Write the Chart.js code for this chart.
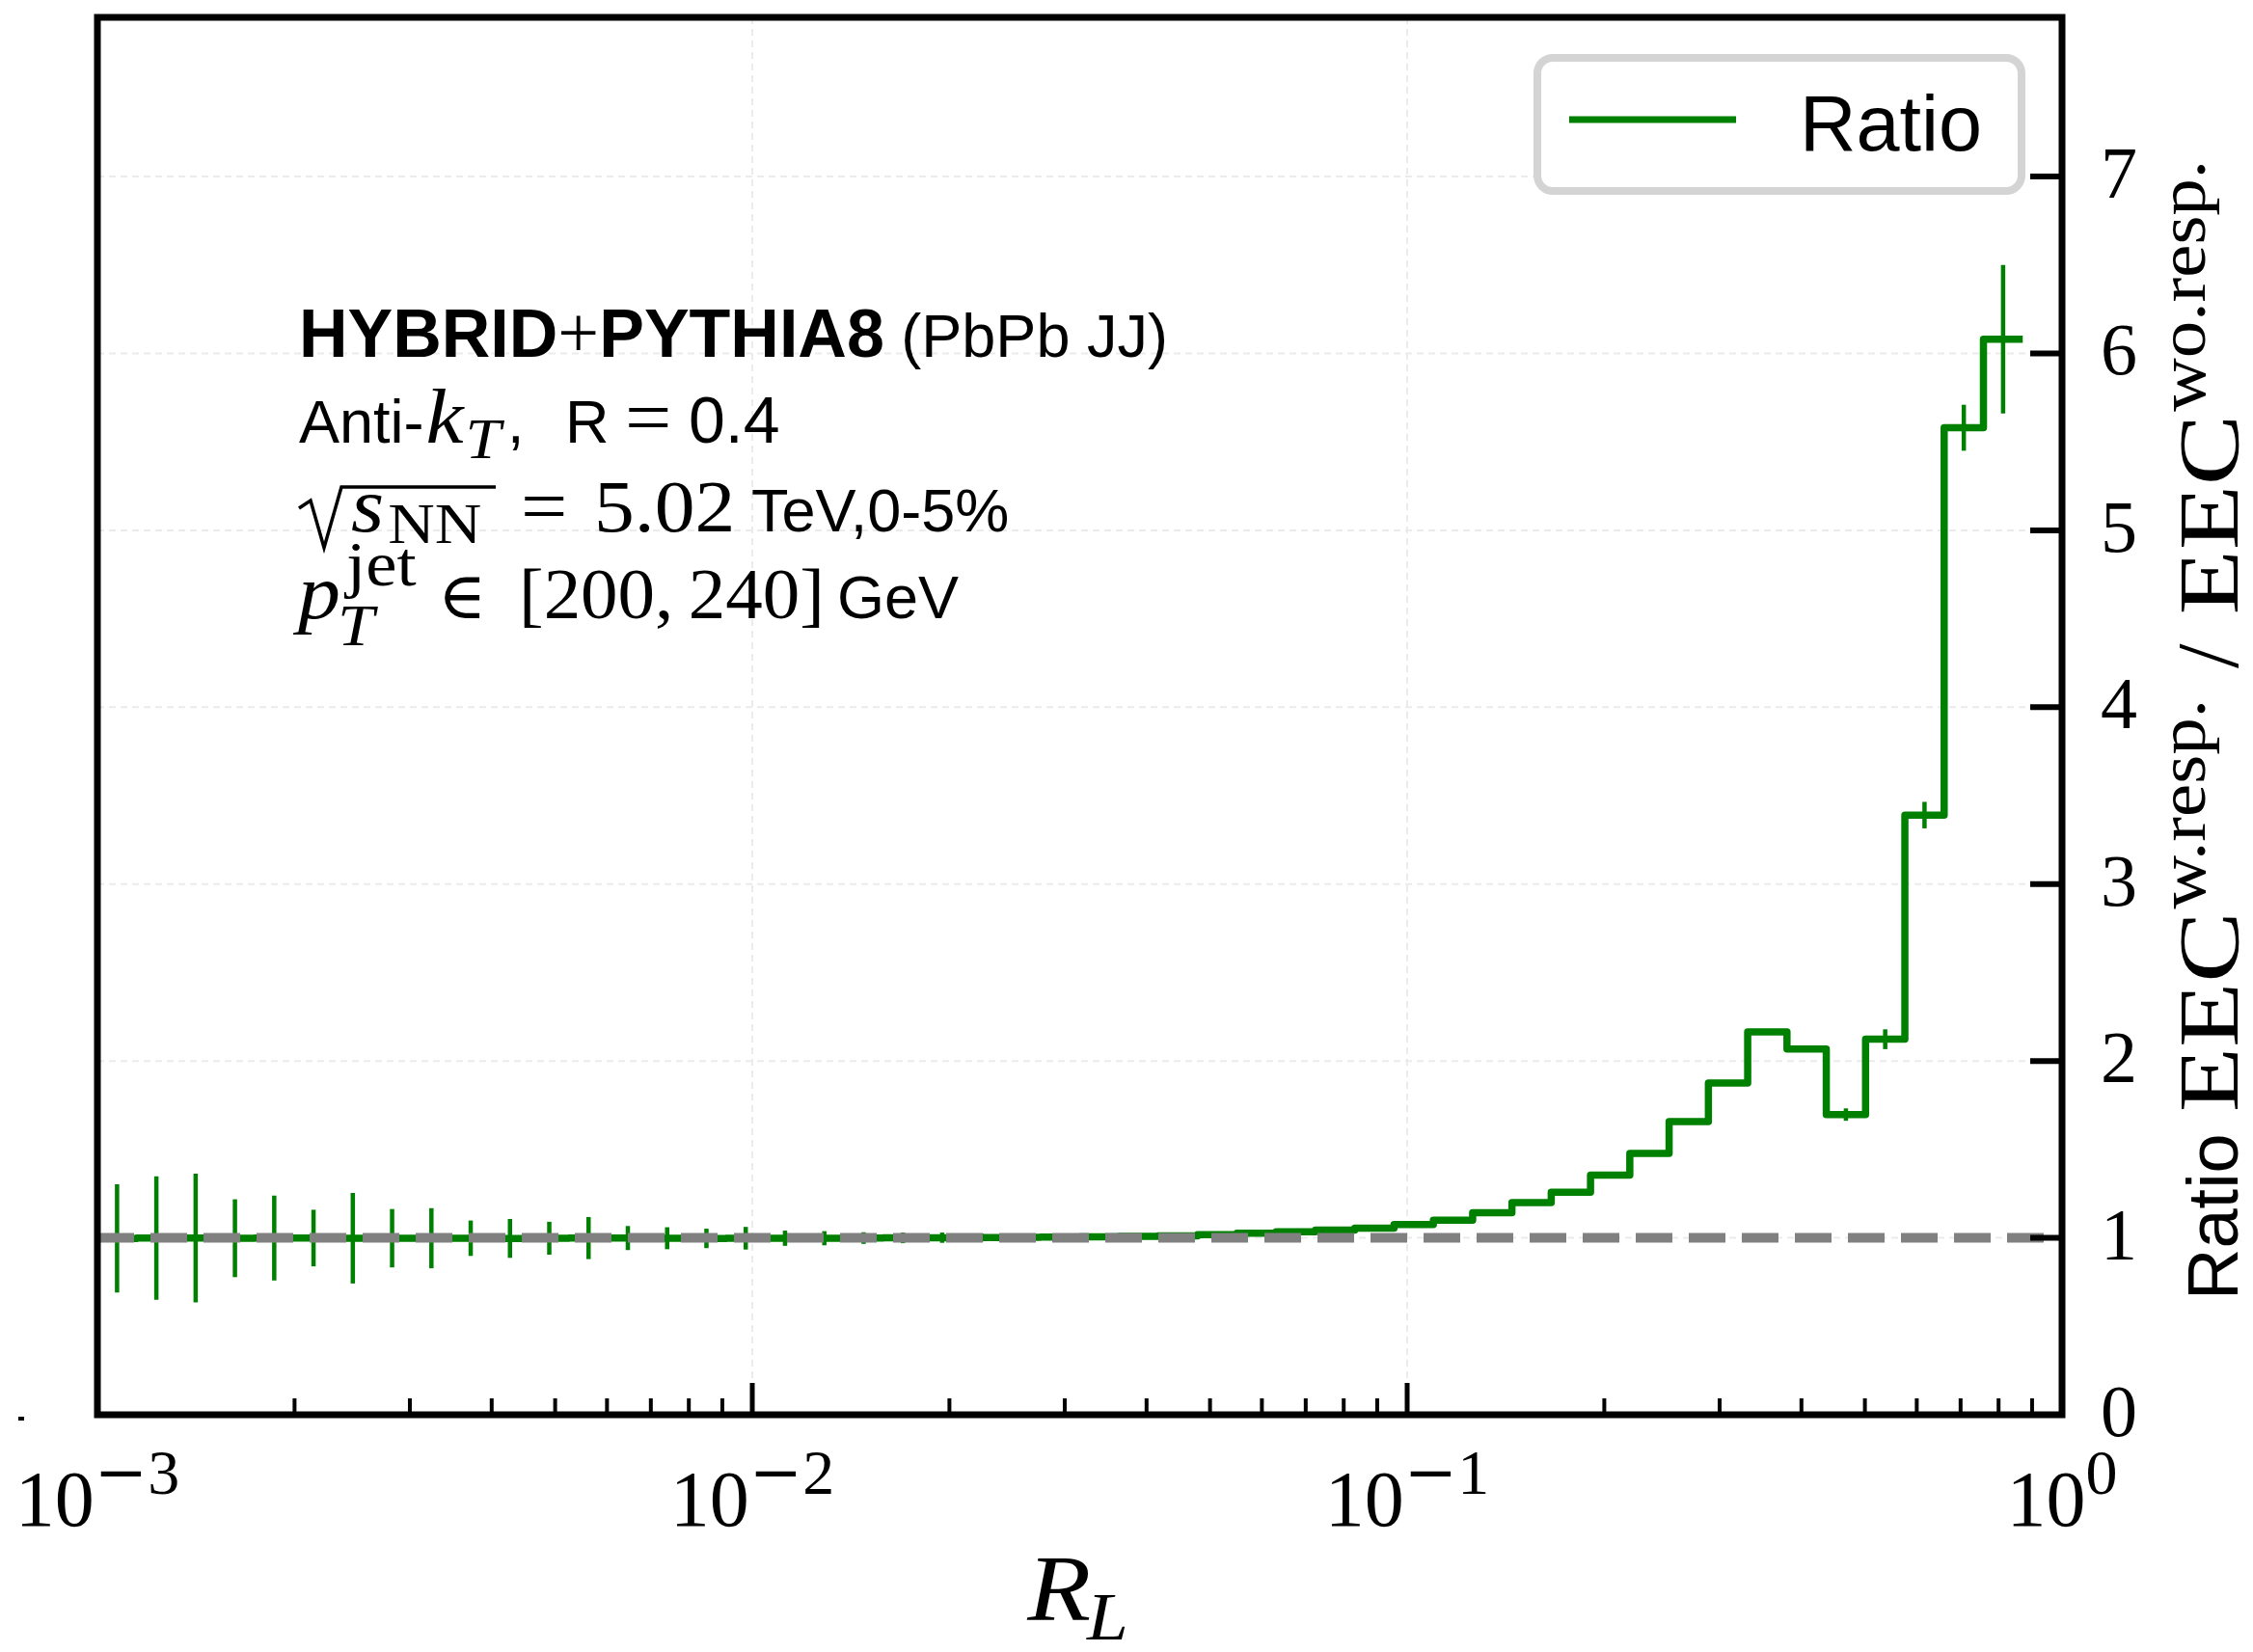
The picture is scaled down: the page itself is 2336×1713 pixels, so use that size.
<!DOCTYPE html>
<html>
<head>
<meta charset="utf-8">
<title>EEC ratio</title>
<script src="https://cdn.jsdelivr.net/npm/chart.js@4.4.0/dist/chart.umd.min.js"></script>
<style>
  html, body { margin: 0; padding: 0; background: #ffffff; }
  #wrap { width: 2336px; height: 1713px; }
</style>
</head>
<body>
<div id="wrap"><canvas id="chart" width="2336" height="1713"></canvas></div>
<script>
// R_L bin edges (log-spaced, 50 bins per three decades; the last bin is empty)
const binEdges = [
  0.0010000, 0.0011482, 0.0013183, 0.0015136, 0.0017378, 0.0019953, 0.0022909, 0.0026303,
  0.0030200, 0.0034674, 0.0039811, 0.0045709, 0.0052481, 0.0060256, 0.0069183, 0.0079433,
  0.0091201, 0.0104713, 0.0120226, 0.0138038, 0.0158489, 0.0181970, 0.0208930, 0.0239883,
  0.0275423, 0.0316228, 0.0363078, 0.0416869, 0.0478630, 0.0549541, 0.0630957, 0.0724436,
  0.0831764, 0.0954993, 0.1096478, 0.1258925, 0.1445440, 0.1659587, 0.1905461, 0.2187762,
  0.2511886, 0.2884032, 0.3311311, 0.3801894, 0.4365158, 0.5011872, 0.5754399, 0.6606934,
  0.7585776, 0.8709636
];

// EEC(w. resp.) / EEC(wo. resp.) per bin
const ratio = [
  0.997, 0.999, 0.999, 0.998, 0.999, 0.999, 0.998, 0.998, 0.998, 0.998,
  0.997, 0.998, 0.999, 0.999, 0.998, 0.997, 0.998, 0.998, 0.998, 0.999,
  1.000, 1.001, 1.002, 1.003, 1.004, 1.006, 1.008, 1.012, 1.018, 1.027,
  1.034, 1.044, 1.055, 1.076, 1.100, 1.142, 1.200, 1.258, 1.355, 1.478,
  1.658, 1.875, 2.165, 2.068, 1.697, 2.123, 3.390, 5.580, 6.080
];

// statistical uncertainty per bin
const ratioErr = [
  0.306, 0.349, 0.364, 0.220, 0.240, 0.160, 0.256, 0.165, 0.170, 0.100,
  0.110, 0.093, 0.119, 0.068, 0.062, 0.055, 0.064, 0.043, 0.040, 0.033,
  0.030, 0.029, 0.022, 0.020, 0.018, 0.015, 0.013, 0.012, 0.011, 0.010,
  0.010, 0.010, 0.010, 0.010, 0.010, 0.010, 0.010, 0.010, 0.010, 0.010,
  0.011, 0.012, 0.012, 0.015, 0.035, 0.056, 0.075, 0.130, 0.420
];

// axis ticks
const xMajorTicks = [0.001, 0.01, 0.1, 1];
const xTickExponents = ['\u22123', '\u22122', '\u22121', '0'];
const yMajorTicks = [0, 1, 2, 3, 4, 5, 6, 7];
const yTickLabels = ['0', '1', '2', '3', '4', '5', '6', '7'];
const referenceLevel = 1;

const SANS = '"Liberation Sans", Arial, sans-serif';
const SERIF = '"Liberation Serif", "Times New Roman", serif';
const DSERIF = '"DejaVu Serif", serif';
const GREEN = '#008000';

// step outline: one point per left bin edge, closed at the last right edge
const stepPoints = ratio.map((v, i) => ({ x: binEdges[i], y: v }));
stepPoints.push({ x: binEdges[ratio.length], y: ratio[ratio.length - 1] });

// draws a sequence of text runs; each run may set its own font, offset and horizontal stretch
function runs(ctx, x, y, parts) {
  let cx = x;
  for (const p of parts) {
    if (p.at !== undefined) cx = p.at;
    cx += p.dx || 0;
    ctx.font = p.font;
    const sx = p.sx || 1;
    const w = ctx.measureText(p.t).width * sx;
    ctx.save();
    ctx.translate(cx, y + (p.dy || 0));
    ctx.scale(sx, 1);
    ctx.fillText(p.t, 0, 0);
    ctx.restore();
    cx += w + (p.after || 0);
  }
  return cx;
}

const decorations = {
  id: 'decorations',
  beforeDatasetsDraw(chart) {
    const ctx = chart.ctx;
    const xs = chart.scales.x, ys = chart.scales.y;
    const { left, right, top, bottom } = chart.chartArea;
    ctx.save();
    ctx.strokeStyle = '#ebebeb';
    ctx.lineWidth = 2;
    ctx.setLineDash([7, 5]);
    for (const v of yMajorTicks) {
      if (v === 0) continue;
      const y = ys.getPixelForValue(v);
      ctx.beginPath(); ctx.moveTo(left, y); ctx.lineTo(right, y); ctx.stroke();
    }
    for (const v of xMajorTicks) {
      const x = xs.getPixelForValue(v);
      if (x <= left + 1 || x >= right - 1) continue;
      ctx.beginPath(); ctx.moveTo(x, top); ctx.lineTo(x, bottom); ctx.stroke();
    }
    ctx.restore();
  },
  afterDatasetsDraw(chart) {
    const ctx = chart.ctx;
    const xs = chart.scales.x, ys = chart.scales.y;
    const { left, right, top, bottom } = chart.chartArea;
    ctx.save();

    // error bars at the logarithmic bin centres
    ctx.strokeStyle = GREEN;
    ctx.lineWidth = 4.5;
    ctx.lineCap = 'butt';
    ratio.forEach((v, i) => {
      const xc = xs.getPixelForValue(Math.sqrt(binEdges[i] * binEdges[i + 1]));
      ctx.beginPath();
      ctx.moveTo(xc, ys.getPixelForValue(v - ratioErr[i]));
      ctx.lineTo(xc, ys.getPixelForValue(v + ratioErr[i]));
      ctx.stroke();
    });

    // reference line at unity
    const yRef = ys.getPixelForValue(referenceLevel);
    ctx.strokeStyle = '#808080';
    ctx.lineWidth = 10;
    ctx.setLineDash([38, 17]);
    ctx.beginPath(); ctx.moveTo(left, yRef); ctx.lineTo(right, yRef); ctx.stroke();
    ctx.setLineDash([]);

    // frame
    ctx.strokeStyle = '#000000';
    ctx.lineWidth = 7;
    ctx.lineCap = 'square';
    ctx.strokeRect(left, top, right - left, bottom - top);

    // x ticks (inward)
    ctx.lineCap = 'butt';
    ctx.lineWidth = 5;
    for (const v of xMajorTicks) {
      const x = xs.getPixelForValue(v);
      ctx.beginPath(); ctx.moveTo(x, bottom); ctx.lineTo(x, bottom - 33); ctx.stroke();
    }
    ctx.lineWidth = 4;
    for (let d = 0; d < xMajorTicks.length - 1; d++) {
      for (let m = 2; m <= 9; m++) {
        const x = xs.getPixelForValue(xMajorTicks[d] * m);
        ctx.beginPath(); ctx.moveTo(x, bottom); ctx.lineTo(x, bottom - 17); ctx.stroke();
      }
    }
    // y ticks (inward, right side)
    ctx.lineWidth = 6;
    for (const v of yMajorTicks) {
      const y = ys.getPixelForValue(v);
      ctx.beginPath(); ctx.moveTo(right, y); ctx.lineTo(right - 33, y); ctx.stroke();
    }

    ctx.fillStyle = '#000000';
    ctx.textBaseline = 'alphabetic';

    // x tick labels 10^n
    xMajorTicks.forEach((v, i) => {
      const x = xs.getPixelForValue(v);
      ctx.font = '82px ' + SERIF;
      const wBase = ctx.measureText('10').width;
      let wExp = 0;
      const parts = [];
      for (const ch of xTickExponents[i]) {
        const f = (ch === '\u2212') ? '66px ' + DSERIF : '66px ' + SERIF;
        ctx.font = f;
        wExp += ctx.measureText(ch).width;
        parts.push({ t: ch, font: f, dy: -33 });
      }
      runs(ctx, x - (wBase + wExp) / 2, 1582, [{ t: '10', font: '82px ' + SERIF }].concat(parts));
    });

    // y tick labels
    ctx.textAlign = 'center';
    ctx.textBaseline = 'middle';
    ctx.font = '76px ' + SERIF;
    yMajorTicks.forEach((v, i) => {
      ctx.fillText(yTickLabels[i], 2197, ys.getPixelForValue(v) + 2);
    });
    ctx.textAlign = 'left';
    ctx.textBaseline = 'alphabetic';

    // x axis title R_L
    ctx.font = 'italic 98px ' + SERIF;
    const wR = ctx.measureText('R').width * 1.1;
    ctx.font = 'italic 70px ' + SERIF;
    const wL = ctx.measureText('L').width * 1.1;
    runs(ctx, (left + right) / 2 - (wR + wL) / 2, 1680, [
      { t: 'R', font: 'italic 98px ' + SERIF, sx: 1.1 },
      { t: 'L', font: 'italic 70px ' + SERIF, sx: 1.1, dy: 20, dx: -4 }
    ]);

    // y axis title, rotated, on the right
    ctx.save();
    ctx.translate(2320, 1348);
    ctx.rotate(-Math.PI / 2);
    runs(ctx, 0, 0, [
      { t: 'Ratio', font: '74px ' + SANS, after: 22 },
      { t: 'EEC', font: '88px ' + SERIF, sx: 1.25 },
      { t: 'w.resp.', font: '70px ' + SERIF, sx: 1.1, dy: -34, dx: 3 },
      { t: '/', font: '92px ' + SERIF, dx: 32, after: 30 },
      { t: 'EEC', font: '88px ' + SERIF, sx: 1.25 },
      { t: 'wo.resp.', font: '70px ' + SERIF, sx: 1.1, dy: -34, dx: 3 }
    ]);
    ctx.restore();

    // annotation block
    runs(ctx, 310, 370, [
      { t: 'HYBRID', font: 'bold 70px ' + SANS },
      { t: '+', font: '76px ' + SERIF },
      { t: 'PYTHIA8', font: 'bold 70px ' + SANS },
      { t: ' (PbPb JJ)', font: '63px ' + SANS }
    ]);
    runs(ctx, 310, 459, [
      { t: 'Anti-', font: '63px ' + SANS },
      { t: 'k', font: 'italic 80px ' + SERIF, sx: 1.1, dx: 2 },
      { t: 'T', font: 'italic 60px ' + SERIF, sx: 1.1, dy: 16, dx: 2 },
      { t: ',', font: '63px ' + SANS, at: 526 },
      { t: 'R', font: '63px ' + SANS, at: 586 },
      { t: '=', font: '78px ' + SERIF, sx: 1.1, at: 648 },
      { t: '0.4', font: '68px ' + SANS, at: 714 }
    ]);
    // square root with vinculum
    ctx.strokeStyle = '#000000';
    ctx.lineWidth = 3.5;
    ctx.lineJoin = 'miter';
    ctx.beginPath();
    ctx.moveTo(310, 527); ctx.lineTo(322, 519); ctx.lineTo(336, 568); ctx.lineTo(354, 505); ctx.lineTo(514, 505);
    ctx.stroke();
    runs(ctx, 364, 551, [
      { t: 's', font: 'italic 80px ' + SERIF, sx: 1.1 },
      { t: 'NN', font: '60px ' + SERIF, sx: 1.12, dy: 12, dx: 4 },
      { t: '=', font: '78px ' + SERIF, sx: 1.1, at: 540 },
      { t: '5.02', font: '76px ' + SERIF, sx: 1.1, at: 616 },
      { t: 'TeV,0-5%', font: '63px ' + SANS, at: 779 }
    ]);
    runs(ctx, 309, 641, [
      { t: 'p', font: 'italic 80px ' + SERIF, sx: 1.1 },
      { t: 'jet', font: '66px ' + SERIF, sx: 1.1, dy: -34, dx: 6 },
      { t: 'T', font: 'italic 62px ' + SERIF, sx: 1.1, at: 350, dy: 28 },
      { t: '\u2208', font: '68px ' + DSERIF, at: 454 },
      { t: '[200,\u2009240]', font: '74px ' + SERIF, sx: 1.04, at: 538 },
      { t: 'GeV', font: '63px ' + SANS, at: 868 }
    ]);

    // legend
    ctx.fillStyle = '#ffffff';
    ctx.strokeStyle = '#d4d4d4';
    ctx.lineWidth = 8;
    ctx.beginPath();
    ctx.roundRect(1594, 60, 502, 138, 16);
    ctx.fill();
    ctx.stroke();
    ctx.strokeStyle = GREEN;
    ctx.lineWidth = 7;
    ctx.lineCap = 'butt';
    ctx.beginPath(); ctx.moveTo(1627, 124); ctx.lineTo(1800, 124); ctx.stroke();
    ctx.fillStyle = '#000000';
    ctx.font = '81px ' + SANS;
    ctx.fillText(chart.data.datasets[0].label, 1866, 156);

    // small mark at the lower left corner of the figure
    ctx.fillRect(19, 1469, 6, 4);

    ctx.restore();
  }
};

new Chart(document.getElementById('chart'), {
  type: 'line',
  data: {
    datasets: [{
      label: 'Ratio',
      data: stepPoints,
      stepped: 'before',
      borderColor: GREEN,
      borderWidth: 7.5,
      borderJoinStyle: 'round',
      borderCapStyle: 'butt',
      pointRadius: 0,
      fill: false
    }]
  },
  options: {
    responsive: false,
    animation: false,
    devicePixelRatio: 1,
    layout: { padding: { left: 101, right: 198, top: 18, bottom: 246 } },
    scales: {
      x: { type: 'logarithmic', min: 0.001, max: 1, display: false },
      y: { type: 'linear', min: 0, max: 7.9, display: false }
    },
    plugins: { legend: { display: false }, tooltip: { enabled: false } }
  },
  plugins: [decorations]
});
</script>
</body>
</html>
